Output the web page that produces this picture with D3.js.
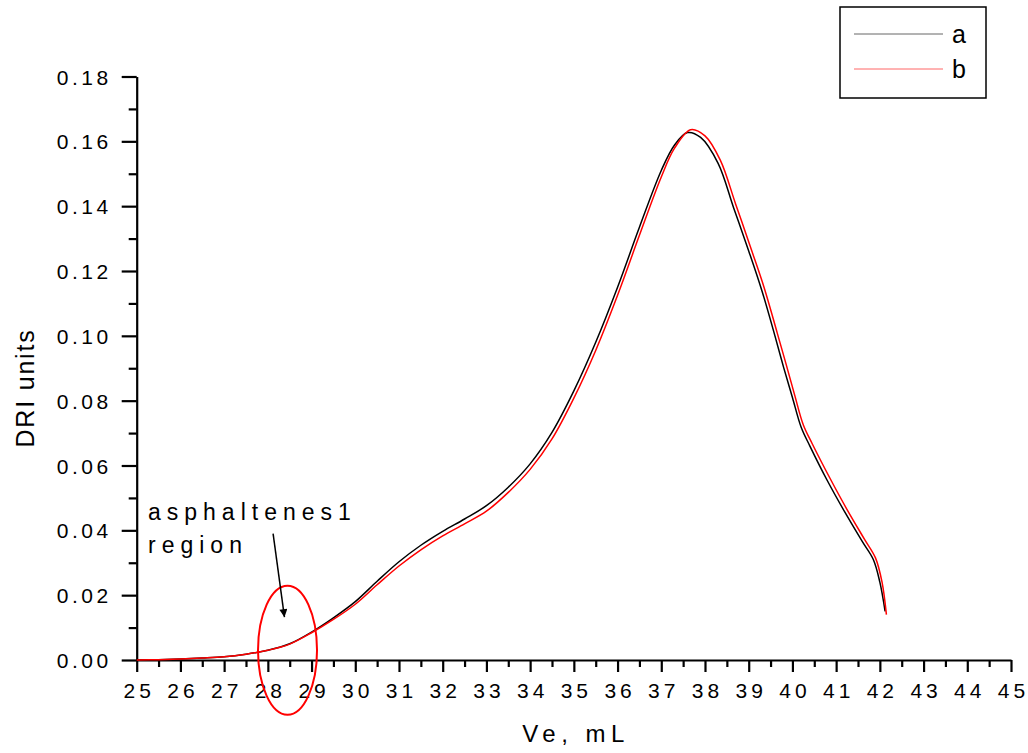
<!DOCTYPE html>
<html>
<head>
<meta charset="utf-8">
<script src="https://cdn.jsdelivr.net/npm/d3@7/dist/d3.min.js"></script>
<style>
  html, body { margin: 0; padding: 0; background: #fff; }
  svg { display: block; font-family: "Liberation Sans", Arial, sans-serif; }
</style>
</head>
<body>
<svg id="chart" width="1028" height="753"></svg>
<script>
// ---- data ----
const seriesNames = ["a", "b"];
const seriesColors = ["#000000", "#ff0000"];

const aX = [25, 25.5, 26, 26.5, 27, 27.5, 28, 28.5, 29, 29.5, 30, 30.5, 31, 31.5, 32, 32.5, 33, 33.5, 34, 34.5, 35, 35.5, 36, 36.5, 37, 37.3, 37.6, 37.9, 38.3, 38.65, 39, 39.3, 39.6, 39.8, 40.0, 40.2, 40.4, 40.8, 41.2, 41.6, 41.85, 42.0, 42.12];
const aY = [0.0000, 0.0001, 0.0003, 0.0006, 0.0010, 0.0018, 0.0030, 0.0050, 0.0086, 0.0130, 0.0180, 0.0243, 0.0303, 0.0354, 0.0397, 0.0435, 0.0476, 0.0533, 0.0605, 0.0702, 0.0830, 0.0980, 0.1150, 0.1335, 0.1510, 0.1588, 0.1627, 0.1612, 0.1532, 0.1397, 0.1262, 0.1140, 0.1000, 0.0902, 0.0810, 0.0718, 0.0660, 0.0553, 0.0456, 0.0365, 0.0310, 0.0240, 0.0150];

const bX = [25, 25.5, 26, 26.5, 27, 27.5, 28, 28.5, 29, 29.5, 30, 30.5, 31, 31.5, 32, 32.5, 33, 33.5, 34, 34.5, 35, 35.5, 36, 36.5, 37, 37.3, 37.67, 38.0, 38.35, 38.7, 39.05, 39.35, 39.65, 39.85, 40.05, 40.25, 40.45, 40.85, 41.25, 41.65, 41.9, 42.05, 42.15];
const bY = [0.0000, 0.0001, 0.0003, 0.0006, 0.0010, 0.0018, 0.0030, 0.0049, 0.0084, 0.0125, 0.0172, 0.0232, 0.0290, 0.0340, 0.0383, 0.0420, 0.0459, 0.0517, 0.0588, 0.0682, 0.0808, 0.0955, 0.1125, 0.1310, 0.1490, 0.1578, 0.1636, 0.1617, 0.1542, 0.1407, 0.1270, 0.1150, 0.1010, 0.0915, 0.0818, 0.0725, 0.0668, 0.0563, 0.0464, 0.0372, 0.0315, 0.0240, 0.0140];

const xTicks = d3.range(25, 46, 1);
const xMinorTicks = d3.range(25.5, 45, 1);
const yTicks = [0, 0.02, 0.04, 0.06, 0.08, 0.10, 0.12, 0.14, 0.16, 0.18];
const yMinorTicks = [0.01, 0.03, 0.05, 0.07, 0.09, 0.11, 0.13, 0.15, 0.17];

const xTitle = "Ve, mL";
const yTitle = "DRI units";
const noteLines = ["asphaltenes1", "region"];

// ---- layout ----
const pLeft = 136.7, pRight = 1011, pTop = 76.5, pBottom = 660;
const svg = d3.select("#chart");

const x = d3.scaleLinear().domain([25, 45]).range([pLeft, pRight]);
const y = d3.scaleLinear().domain([0, 0.18]).range([pBottom, pTop]);

// X axis
const gx = svg.append("g").attr("transform", `translate(0,${pBottom})`);
gx.call(d3.axisBottom(x).tickValues(xTicks).tickSize(12).tickSizeOuter(0).tickFormat(d3.format("d")));
gx.select(".domain").attr("stroke-width", 2.2);
gx.selectAll(".tick line").attr("stroke-width", 2.2);
gx.selectAll(".tick text")
  .attr("y", 38).attr("dy", 0).attr("dx", 2)
  .style("font-size", "21px").style("letter-spacing", "4px")
  .attr("fill", "#000");
const gxm = svg.append("g").attr("transform", `translate(0,${pBottom})`);
gxm.call(d3.axisBottom(x).tickValues(xMinorTicks).tickSize(7).tickSizeOuter(0).tickFormat(""));
gxm.select(".domain").remove();
gxm.selectAll(".tick line").attr("stroke-width", 2.2);

// Y axis
const gy = svg.append("g").attr("transform", `translate(${pLeft},0)`);
gy.call(d3.axisLeft(y).tickValues(yTicks).tickSize(15).tickSizeOuter(0).tickFormat(d3.format(".2f")));
gy.select(".domain").attr("stroke-width", 2.2);
gy.selectAll(".tick line").attr("stroke-width", 2.2);
gy.selectAll(".tick text")
  .attr("x", -25).attr("dy", "0.36em")
  .style("font-size", "21px").style("letter-spacing", "3.5px")
  .attr("fill", "#000");
const gym = svg.append("g").attr("transform", `translate(${pLeft},0)`);
gym.call(d3.axisLeft(y).tickValues(yMinorTicks).tickSize(8).tickSizeOuter(0).tickFormat(""));
gym.select(".domain").remove();
gym.selectAll(".tick line").attr("stroke-width", 2.2);

// Titles
svg.append("text").attr("x", 576).attr("y", 742).attr("text-anchor", "middle")
  .style("font-size", "24px").style("letter-spacing", "5.5px").text(xTitle);
svg.append("text").attr("transform", `translate(34,388) rotate(-90)`).attr("text-anchor", "middle")
  .style("font-size", "25px").style("letter-spacing", "1.8px").text(yTitle);

// Lines
const line = d3.line().x(d => x(d[0])).y(d => y(d[1])).curve(d3.curveCatmullRom.alpha(0.5));
const series = [d3.zip(aX, aY), d3.zip(bX, bY)];
series.forEach((s, i) => {
  svg.append("path").datum(s).attr("d", line)
    .attr("fill", "none").attr("stroke", seriesColors[i]).attr("stroke-width", 1.5);
});

// Annotation: ellipse, arrow, text
svg.append("ellipse")
  .attr("cx", x(28.45)).attr("cy", y(0.003))
  .attr("rx", 29.5).attr("ry", 64.5)
  .attr("fill", "none").attr("stroke", "#ff0000").attr("stroke-width", 2);

const defs = svg.append("defs");
defs.append("marker").attr("id", "arrow").attr("viewBox", "0 0 10 10")
  .attr("refX", 10).attr("refY", 5).attr("markerWidth", 10).attr("markerHeight", 8)
  .attr("markerUnits", "userSpaceOnUse").attr("orient", "auto")
  .append("path").attr("d", "M0,0 L10,5 L0,10 Z").attr("fill", "#000");
svg.append("line")
  .attr("x1", x(28.12)).attr("y1", y(0.039))
  .attr("x2", x(28.38)).attr("y2", y(0.0132))
  .attr("stroke", "#000").attr("stroke-width", 1.5).attr("marker-end", "url(#arrow)");

const note = svg.append("text").style("font-size", "23px").style("letter-spacing", "6px");
noteLines.forEach((t, i) => {
  note.append("tspan").attr("x", 148).attr("y", 520 + i * 33).text(t);
});

// Legend
const lg = svg.append("g");
lg.append("rect").attr("x", 840).attr("y", 7).attr("width", 146).attr("height", 91)
  .attr("fill", "#fff").attr("stroke", "#000").attr("stroke-width", 1.5);
seriesNames.forEach((n, i) => {
  const yy = 34 + i * 35;
  lg.append("line").attr("x1", 854).attr("x2", 943).attr("y1", yy).attr("y2", yy)
    .attr("stroke", seriesColors[i]).attr("stroke-width", 1).attr("stroke-opacity", 0.6);
  lg.append("text").attr("x", 952).attr("y", yy + 9).style("font-size", "25px").text(n);
});
</script>
</body>
</html>
